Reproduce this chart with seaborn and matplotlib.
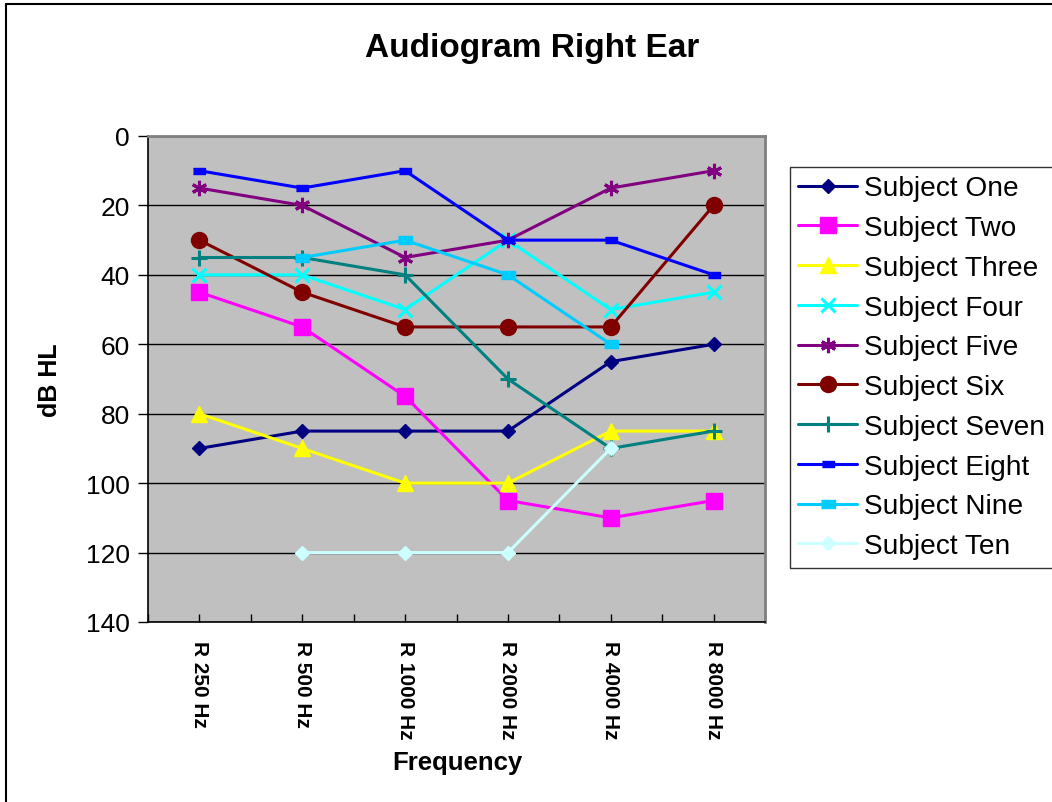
import numpy as np
import pandas as pd
import matplotlib
matplotlib.use("Agg")
import matplotlib.pyplot as plt
from matplotlib.lines import Line2D
import seaborn as sns

# ---- data ----
frequencies = ["R 250 Hz", "R 500 Hz", "R 1000 Hz", "R 2000 Hz", "R 4000 Hz", "R 8000 Hz"]
subject_one = [90, 85, 85, 85, 65, 60]
subject_two = [45, 55, 75, 105, 110, 105]
subject_three = [80, 90, 100, 100, 85, 85]
subject_four = [40, 40, 50, 30, 50, 45]
subject_five = [15, 20, 35, 30, 15, 10]
subject_six = [30, 45, 55, 55, 55, 20]
subject_seven = [35, 35, 40, 70, 90, 85]
subject_eight = [10, 15, 10, 30, 30, 40]
subject_nine = [np.nan, 35, 30, 40, 60, np.nan]
subject_ten = [np.nan, 120, 120, 120, 90, np.nan]
y_ticks = [0, 20, 40, 60, 80, 100, 120, 140]

series_names = ["Subject One", "Subject Two", "Subject Three", "Subject Four", "Subject Five",
                "Subject Six", "Subject Seven", "Subject Eight", "Subject Nine", "Subject Ten"]
series_values = [subject_one, subject_two, subject_three, subject_four, subject_five,
                 subject_six, subject_seven, subject_eight, subject_nine, subject_ten]

# ---- styles ----
small_rect = [(-1, -0.55), (1, -0.55), (1, 0.55), (-1, 0.55)]
styles = {
    "Subject One":   dict(color="#000080", marker="D", ms=7.0),
    "Subject Two":   dict(color="#FF00FF", marker="s", ms=11.0),
    "Subject Three": dict(color="#FFFF00", marker="^", ms=12.0),
    "Subject Four":  dict(color="#00FFFF", marker="x", ms=10.0, mew=2.2),
    "Subject Five":  dict(color="#800080", marker=(6, 2, 0), ms=11.0, mew=2.2),
    "Subject Six":   dict(color="#800000", marker="o", ms=11.5),
    "Subject Seven": dict(color="#008080", marker="+", ms=11.0, mew=2.2),
    "Subject Eight": dict(color="#0000FF", marker=small_rect, ms=8.0),
    "Subject Nine":  dict(color="#00CCFF", marker=small_rect, ms=10.5),
    "Subject Ten":   dict(color="#CCFFFF", marker="D", ms=7.0),
}

sns.set_theme(style="white")
plt.rcParams["font.family"] = ["Liberation Sans", "DejaVu Sans"]
plt.rcParams["text.color"] = "black"
plt.rcParams["axes.labelcolor"] = "black"
plt.rcParams["xtick.color"] = "black"
plt.rcParams["ytick.color"] = "black"

fig = plt.figure(figsize=(10.52, 8.03), dpi=100)
fig.patch.set_facecolor("white")
ax = fig.add_axes([148 / 1052, 1 - 623 / 803, (765 - 148) / 1052, (623 - 137) / 803])
ax.set_facecolor("#C0C0C0")

x_pos = np.arange(len(frequencies))
for name, vals in zip(series_names, series_values):
    st = styles[name]
    df = pd.DataFrame({"x": x_pos, "y": vals})
    sns.lineplot(data=df, x="x", y="y", ax=ax, color=st["color"], marker=st["marker"],
                 markersize=st["ms"], markerfacecolor=st["color"], markeredgecolor=st["color"],
                 markeredgewidth=st.get("mew", 1.0), linewidth=2.2, label=name, legend=False)

ax.set_xlim(-0.5, len(frequencies) - 0.5)
ax.set_ylim(140, 0)
ax.set_yticks(y_ticks)
ax.set_yticklabels([str(v) for v in y_ticks], fontsize=19, color="black")
ax.set_xticks(x_pos)
ax.set_xticklabels(frequencies, rotation=-90, fontsize=15, fontweight="bold", va="top",
                   ha="center", color="black")
ax.set_xticks(np.arange(-0.5, len(frequencies), 1.0), minor=True)
ax.tick_params(axis="x", which="both", direction="in", length=6, width=1, color="black", pad=13,
               bottom=True)
ax.tick_params(axis="y", direction="out", length=7, width=1, color="black", pad=6, left=True)
ax.set_xlabel("")
ax.set_ylabel("")
ax.yaxis.grid(True, color="black", linewidth=1)
ax.xaxis.grid(False)
ax.set_axisbelow(True)
for side in ["top", "right"]:
    ax.spines[side].set_color("#808080")
    ax.spines[side].set_linewidth(2)
for side in ["left", "bottom"]:
    ax.spines[side].set_color("black")
    ax.spines[side].set_linewidth(1.2)

# texts
fig.text(532 / 1052, 1 - 49 / 803, "Audiogram Right Ear", ha="center", va="center",
         fontsize=24, fontweight="bold", color="black")
fig.text(457 / 1052, 1 - 763 / 803, "Frequency", ha="center", va="center",
         fontsize=18.5, fontweight="bold", color="black")
fig.text(50 / 1052, 1 - 380 / 803, "dB HL", ha="center", va="center", rotation=90,
         fontsize=18, fontweight="bold", color="black")

# legend
handles, labels = ax.get_legend_handles_labels()
leg = fig.legend(handles, labels, loc="upper left",
                 bbox_to_anchor=(790 / 1052, 1 - 168 / 803), frameon=True, fancybox=False,
                 fontsize=20.2, handlelength=2.1, handletextpad=0.25, labelspacing=0.49,
                 borderpad=0.3, borderaxespad=0)
leg.get_frame().set_edgecolor("black")
leg.get_frame().set_linewidth(1)
leg.get_frame().set_facecolor("white")
for t in leg.get_texts():
    t.set_color("black")

# outer chart border (left and top edges)
fig.add_artist(Line2D([6 / 1052, 6 / 1052], [0, 1 - 5 / 803], transform=fig.transFigure,
                      color="black", linewidth=1.5))
fig.add_artist(Line2D([6 / 1052, 1], [1 - 5 / 803, 1 - 5 / 803], transform=fig.transFigure,
                      color="black", linewidth=1.5))

fig.savefig("out.png", dpi=100)
